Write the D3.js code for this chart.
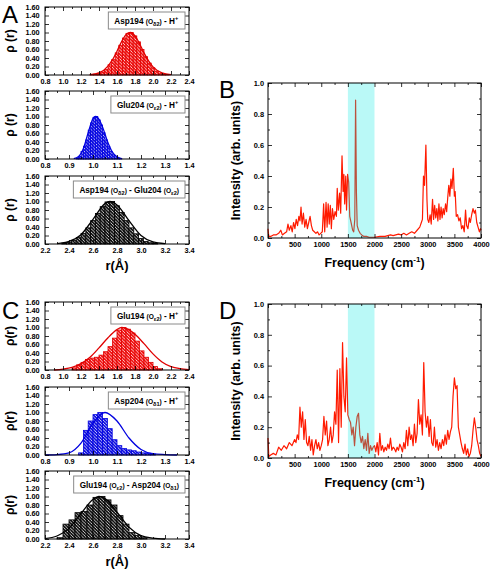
<!DOCTYPE html>
<html><head><meta charset="utf-8">
<script src="https://cdn.jsdelivr.net/npm/d3@7"></script>
<style>
body{margin:0;background:#fff}
svg{display:block}
text{font-family:"Liberation Sans",Arial,sans-serif}
</style>
</head><body>
<svg id="c" width="492" height="576"></svg>
<script>
// ---------------- DATA ----------------
const a1Edges = [1.30,1.34,1.38,1.42,1.46,1.50,1.54,1.58,1.62,1.66,1.70,1.74,1.78,1.82,1.86,1.90,1.94,1.98,2.02,2.06,2.10,2.14];
const a1Heights = [0.01,0.02,0.04,0.07,0.13,0.24,0.36,0.52,0.70,0.87,0.98,1.00,0.92,0.78,0.60,0.43,0.28,0.17,0.09,0.04,0.02,0.01];
const a1FitX = [1.30,1.40,1.50,1.55,1.60,1.65,1.70,1.75,1.80,1.85,1.90,2.00,2.10,2.20];
const a1FitY = [0.01,0.05,0.21,0.36,0.56,0.78,0.95,1.00,0.92,0.74,0.52,0.19,0.05,0.01];

const a2Edges = [0.93,0.94,0.95,0.96,0.97,0.98,0.99,1.00,1.01,1.02,1.03,1.04,1.05,1.06,1.07,1.08,1.09,1.10,1.11];
const a2Heights = [0.02,0.06,0.18,0.30,0.45,0.68,0.85,0.98,1.00,0.92,0.80,0.62,0.45,0.30,0.18,0.10,0.05,0.02,0.01];
const a2FitX = [0.92,0.94,0.96,0.98,1.00,1.01,1.02,1.04,1.06,1.08,1.10,1.12];
const a2FitY = [0.01,0.06,0.25,0.62,0.95,1.00,0.97,0.75,0.42,0.17,0.05,0.01];

const a3Edges = [2.34,2.38,2.42,2.46,2.50,2.54,2.58,2.62,2.66,2.70,2.74,2.78,2.82,2.86,2.90,2.94,2.98,3.02,3.06,3.10];
const a3Heights = [0.02,0.04,0.08,0.15,0.25,0.38,0.55,0.72,0.88,0.99,1.00,0.90,0.74,0.55,0.38,0.24,0.13,0.06,0.03,0.01];
const a3FitX = [2.30,2.40,2.50,2.60,2.70,2.74,2.80,2.90,3.00,3.10,3.20];
const a3FitY = [0.01,0.06,0.22,0.58,0.95,1.00,0.92,0.55,0.20,0.05,0.01];

const c1Edges = [1.10,1.15,1.20,1.25,1.30,1.35,1.40,1.45,1.50,1.55,1.60,1.65,1.70,1.75,1.80,1.85,1.90,1.95,2.00,2.05];
const c1Heights = [0.05,0.12,0.18,0.25,0.28,0.30,0.35,0.43,0.55,0.75,0.94,1.00,0.96,0.87,0.68,0.45,0.30,0.18,0.08,0.03];
const c1FitX = [0.90,1.00,1.10,1.20,1.30,1.40,1.50,1.60,1.65,1.70,1.80,1.90,2.00,2.10,2.20,2.30,2.40];
const c1FitY = [0.00,0.02,0.06,0.15,0.30,0.52,0.76,0.95,1.00,0.98,0.84,0.62,0.38,0.19,0.08,0.03,0.01];

const c2Edges = [0.94,0.96,0.98,1.00,1.02,1.04,1.06,1.08,1.10,1.12,1.14,1.16,1.18,1.20,1.22,1.24];
const c2Heights = [0.05,0.58,0.80,0.95,1.00,0.86,0.62,0.36,0.22,0.15,0.12,0.10,0.07,0.05,0.04,0.02];
const c2FitX = [0.80,0.85,0.90,0.95,1.00,1.05,1.10,1.15,1.20,1.25,1.30,1.35];
const c2FitY = [0.00,0.01,0.05,0.28,0.75,1.00,0.80,0.40,0.13,0.03,0.01,0.00];

const c3Edges = [2.30,2.35,2.40,2.45,2.50,2.55,2.60,2.65,2.70,2.75,2.80,2.85,2.90,2.95,3.00];
const c3Heights = [0.03,0.35,0.45,0.62,0.65,0.80,0.98,1.00,0.92,0.80,0.55,0.35,0.15,0.08,0.03];
const c3FitX = [2.20,2.30,2.40,2.50,2.60,2.65,2.70,2.80,2.90,3.00,3.10,3.20];
const c3FitY = [0.01,0.07,0.25,0.60,0.93,1.00,0.95,0.63,0.28,0.08,0.02,0.00];

const yTicksHist = [0,0.2,0.4,0.6,0.8,1.0,1.2,1.4,1.6];
const xTicksWide = [0.8,1.0,1.2,1.4,1.6,1.8,2.0,2.2,2.4];
const xTicksNarrow = [0.8,0.9,1.0,1.1,1.2,1.3,1.4];
const xTicksOO = [2.2,2.4,2.6,2.8,3.0,3.2,3.4];
const xTicksFreq = [0,500,1000,1500,2000,2500,3000,3500,4000];
const yTicksInt = [0,0.2,0.4,0.6,0.8,1.0];
const bandRange = [1500,2000];

const specB = [[0,0.06],[15,0.01],[50,0.01],[100,0.02],[150,0.02],[200,0.03],[240,0.05],[270,0.02],[310,0.03],[350,0.04],[375,0.09],[400,0.05],[430,0.08],[455,0.04],[480,0.10],[505,0.06],[530,0.12],[555,0.08],[580,0.14],[600,0.11],[620,0.20],[640,0.09],[665,0.16],[690,0.07],[715,0.12],[740,0.06],[765,0.10],[790,0.14],[815,0.08],[840,0.05],[870,0.04],[900,0.03],[930,0.04],[960,0.02],[990,0.03],[1020,0.04],[1045,0.22],[1065,0.04],[1090,0.23],[1110,0.07],[1130,0.22],[1150,0.09],[1170,0.21],[1190,0.06],[1210,0.19],[1235,0.12],[1260,0.17],[1285,0.14],[1300,0.32],[1320,0.18],[1345,0.29],[1365,0.16],[1390,0.53],[1410,0.30],[1425,0.41],[1440,0.22],[1460,0.40],[1475,0.18],[1495,0.41],[1515,0.36],[1535,0.14],[1560,0.10],[1590,0.05],[1610,0.04],[1630,0.12],[1645,0.89],[1660,0.30],[1675,0.08],[1700,0.05],[1730,0.03],[1760,0.02],[1800,0.01],[1850,0.01],[1900,0.005],[2000,0.005],[2100,0.01],[2200,0.01],[2250,0.015],[2300,0.02],[2350,0.015],[2400,0.02],[2450,0.025],[2500,0.02],[2550,0.03],[2600,0.02],[2650,0.03],[2700,0.04],[2750,0.03],[2800,0.05],[2850,0.07],[2880,0.10],[2900,0.12],[2920,0.40],[2940,0.34],[2965,0.60],[2985,0.25],[3000,0.12],[3020,0.10],[3045,0.15],[3065,0.09],[3090,0.25],[3110,0.12],[3130,0.21],[3150,0.13],[3170,0.19],[3190,0.11],[3210,0.22],[3230,0.12],[3250,0.20],[3270,0.13],[3290,0.19],[3310,0.15],[3335,0.22],[3355,0.17],[3375,0.26],[3395,0.34],[3415,0.27],[3435,0.38],[3455,0.32],[3480,0.45],[3500,0.27],[3515,0.30],[3535,0.14],[3560,0.15],[3585,0.11],[3610,0.13],[3635,0.06],[3660,0.08],[3685,0.04],[3710,0.18],[3730,0.08],[3755,0.06],[3780,0.13],[3800,0.10],[3825,0.15],[3850,0.19],[3875,0.16],[3895,0.18],[3920,0.10],[3945,0.07],[3970,0.04],[3990,0.06],[4000,0.05]];

const specD = [[0,0.13],[15,0.01],[50,0.02],[100,0.03],[150,0.02],[200,0.07],[250,0.05],[300,0.08],[350,0.06],[400,0.10],[450,0.08],[500,0.12],[525,0.10],[550,0.15],[575,0.12],[600,0.33],[625,0.20],[650,0.30],[675,0.12],[700,0.25],[725,0.10],[750,0.08],[775,0.14],[800,0.05],[825,0.12],[850,0.02],[875,0.08],[900,0.12],[925,0.06],[950,0.10],[975,0.05],[1000,0.08],[1025,0.12],[1050,0.27],[1075,0.15],[1100,0.24],[1125,0.08],[1150,0.12],[1175,0.20],[1200,0.10],[1225,0.15],[1250,0.30],[1275,0.22],[1300,0.57],[1325,0.10],[1350,0.58],[1375,0.20],[1400,0.75],[1425,0.40],[1450,0.30],[1475,0.65],[1500,0.28],[1525,0.25],[1550,0.23],[1575,0.15],[1600,0.20],[1625,0.08],[1650,0.20],[1675,0.27],[1700,0.29],[1725,0.15],[1750,0.10],[1775,0.14],[1800,0.06],[1825,0.12],[1850,0.05],[1875,0.16],[1900,0.03],[1925,0.08],[1950,0.05],[1975,0.07],[2000,0.08],[2025,0.04],[2050,0.10],[2075,0.02],[2100,0.16],[2125,0.05],[2150,0.08],[2175,0.04],[2200,0.07],[2225,0.05],[2250,0.09],[2275,0.06],[2300,0.13],[2325,0.05],[2350,0.07],[2375,0.06],[2400,0.04],[2425,0.07],[2450,0.05],[2475,0.09],[2500,0.07],[2525,0.04],[2550,0.10],[2575,0.06],[2600,0.18],[2625,0.08],[2650,0.20],[2675,0.12],[2700,0.15],[2725,0.08],[2750,0.22],[2775,0.10],[2800,0.16],[2825,0.38],[2850,0.22],[2875,0.28],[2900,0.15],[2925,0.62],[2950,0.30],[2975,0.20],[3000,0.27],[3025,0.14],[3050,0.25],[3075,0.10],[3100,0.08],[3125,0.20],[3150,0.07],[3175,0.12],[3200,0.05],[3225,0.10],[3250,0.06],[3275,0.12],[3300,0.08],[3325,0.15],[3350,0.09],[3375,0.18],[3400,0.12],[3425,0.17],[3450,0.20],[3475,0.40],[3500,0.52],[3525,0.45],[3550,0.47],[3575,0.20],[3600,0.15],[3625,0.10],[3650,0.06],[3675,0.03],[3700,0.09],[3725,0.02],[3750,0.06],[3775,0.01],[3800,0.03],[3825,0.08],[3850,0.18],[3875,0.26],[3900,0.20],[3925,0.12],[3950,0.08],[3975,0.03],[4000,0.01]];

const a1Label = [["Asp194 ","n"],["(O","p"],["δ2","sub"],[")","p"],[" - H","n"],["+","sup"]];
const a2Label = [["Glu204 ","n"],["(O","p"],["ε2","sub"],[")","p"],[" - H","n"],["+","sup"]];
const a3Label = [["Asp194 ","n"],["(O","p"],["δ2","sub"],[")","p"],[" - Glu204 ","n"],["(O","p"],["ε2","sub"],[")","p"]];
const c1Label = [["Glu194 ","n"],["(O","p"],["ε2","sub"],[")","p"],[" - H","n"],["+","sup"]];
const c2Label = [["Asp204 ","n"],["(O","p"],["δ1","sub"],[")","p"],[" - H","n"],["+","sup"]];
const c3Label = [["Glu194 ","n"],["(O","p"],["ε2","sub"],[")","p"],[" - Asp204 ","n"],["(O","p"],["δ1","sub"],[")","p"]];

// ---------------- DRAWING ----------------
const svg = d3.select("#c");
const defs = svg.append("defs");
function hatch(id, color){
  const s = 3.2;
  const p = defs.append("pattern").attr("id", id).attr("patternUnits","userSpaceOnUse")
    .attr("width", s).attr("height", s);
  p.append("rect").attr("width", s).attr("height", s).attr("fill", color);
  p.append("path").attr("d", `M0,0L${s},${s}M${-s/2},${s/2}L${s/2},${s*1.5}M${s/2},${-s/2}L${s*1.5},${s/2}`)
    .attr("stroke","#fff").attr("stroke-width",0.75);
}
hatch("hR","#f01010");
hatch("hB","#1010e0");
hatch("hK","#111");

function richText(g, segs){
  const t = g.append("text").attr("font-weight","bold").attr("fill","#000");
  let shift = 0;
  segs.forEach(([s, st]) => {
    const ts = t.append("tspan").text(s);
    let size = 8.2, dy = 0;
    if (st === "p") size = 6.6;
    if (st === "sub") { size = 5.6; dy = 2; }
    if (st === "sup") { size = 5.6; dy = -3.5; }
    ts.attr("font-size", size).attr("dy", dy - shift);
    shift = dy;
  });
  return t;
}

function frameAxes(g, x, y, L, R, T, B, o){
  const styleText = a => a.selectAll("text").attr("font-size",o.fs).attr("font-weight","bold").attr("font-family","Liberation Sans");
  g.append("g").attr("transform",`translate(0,${B})`)
    .call(d3.axisBottom(x).tickValues(o.xMajor).tickSizeInner(-4).tickSizeOuter(0).tickPadding(3.5).tickFormat(o.xFmt))
    .call(a => { a.select(".domain").remove(); styleText(a); });
  g.append("g").attr("transform",`translate(0,${B})`)
    .call(d3.axisBottom(x).tickValues(o.xMinor).tickSizeInner(-2).tickSizeOuter(0).tickFormat(""))
    .call(a => a.select(".domain").remove());
  g.append("g").attr("transform",`translate(0,${T})`)
    .call(d3.axisTop(x).tickValues(o.xMajor).tickSizeInner(-4).tickSizeOuter(0).tickFormat(""))
    .call(a => a.select(".domain").remove());
  g.append("g").attr("transform",`translate(0,${T})`)
    .call(d3.axisTop(x).tickValues(o.xMinor).tickSizeInner(-2).tickSizeOuter(0).tickFormat(""))
    .call(a => a.select(".domain").remove());
  g.append("g").attr("transform",`translate(${L},0)`)
    .call(d3.axisLeft(y).tickValues(o.yMajor).tickSizeInner(-4).tickSizeOuter(0).tickPadding(o.yPad).tickFormat(o.yFmt))
    .call(a => { a.select(".domain").remove(); styleText(a); });
  g.append("g").attr("transform",`translate(${R},0)`)
    .call(d3.axisRight(y).tickValues(o.yMajor).tickSizeInner(-4).tickSizeOuter(0).tickFormat(""))
    .call(a => a.select(".domain").remove());
  if (o.yMinor) {
    g.append("g").attr("transform",`translate(${L},0)`)
      .call(d3.axisLeft(y).tickValues(o.yMinor).tickSizeInner(-2).tickSizeOuter(0).tickFormat(""))
      .call(a => a.select(".domain").remove());
    g.append("g").attr("transform",`translate(${R},0)`)
      .call(d3.axisRight(y).tickValues(o.yMinor).tickSizeInner(-2).tickSizeOuter(0).tickFormat(""))
      .call(a => a.select(".domain").remove());
  }
  g.selectAll(".tick line").attr("stroke","#000").attr("stroke-width",0.8);
  g.append("rect").attr("x",L).attr("y",T).attr("width",R-L).attr("height",B-T)
    .attr("fill","none").attr("stroke","#000").attr("stroke-width",1);
}

function histPanel(p){
  const L = 45, R = 189;
  const g = svg.append("g");
  const x = d3.scaleLinear().domain(p.dom).range([L,R]);
  const y = d3.scaleLinear().domain([0,1.6]).range([p.B,p.T]);
  const w = p.edges[1] - p.edges[0];
  g.selectAll("rect.bar").data(p.edges).join("rect").attr("class","bar")
    .attr("x", d => x(d)).attr("width", d => x(d + w) - x(d))
    .attr("y", (d,i) => y(p.heights[i])).attr("height", (d,i) => y(0) - y(p.heights[i]))
    .attr("fill", `url(#${p.pat})`).attr("stroke", p.color).attr("stroke-width", 0.8);
  const pts = p.fitX.map((v,i) => [v, p.fitY[i]]);
  g.append("path").datum(pts)
    .attr("d", d3.line().x(d => x(d[0])).y(d => y(d[1])).curve(d3.curveMonotoneX))
    .attr("fill","none").attr("stroke", p.color).attr("stroke-width", 1.3);
  const minor = [];
  for (let i = 0; i < p.xMajor.length - 1; i++) minor.push((p.xMajor[i] + p.xMajor[i+1]) / 2);
  frameAxes(g, x, y, L, R, p.T, p.B, {
    xMajor: p.xMajor, xMinor: minor, xFmt: d3.format(".1f"),
    yMajor: yTicksHist, yFmt: d3.format(".2f"), fs: 7.3, yPad: 5.4
  });
  const lg = g.append("g");
  const t = richText(lg, p.label);
  const bb = t.node().getBBox();
  const bw = bb.width + 12, bh = 17;
  const bx = R - 4 - bw, by = p.T + 5;
  lg.insert("rect","text").attr("x",bx).attr("y",by).attr("width",bw).attr("height",bh)
    .attr("fill","#fff").attr("stroke","#8a8a8a").attr("stroke-width",1);
  t.attr("x", bx + 6).attr("y", by + 11.5);
  t.select("tspan").attr("x", bx + 6);
  g.append("text").attr("transform",`translate(14,${(p.T+p.B)/2}) rotate(-90)`)
    .attr("text-anchor","middle").attr("font-size",12).attr("font-weight","bold").text(p.ylab);
}

function specPanel(p){
  const L = 268, R = 481;
  const g = svg.append("g");
  const x = d3.scaleLinear().domain([0,4000]).range([L,R]);
  const y = d3.scaleLinear().domain([0,1.0]).range([p.B,p.T]);
  g.append("path").datum(p.data)
    .attr("d", d3.line().x(d => x(d[0])).y(d => y(d[1])))
    .attr("fill","none").attr("stroke","#ff1a00").attr("stroke-width",1.2).attr("stroke-linejoin","round");
  g.append("rect").attr("x", x(bandRange[0])).attr("y", p.T).attr("width", x(bandRange[1]) - x(bandRange[0]))
    .attr("height", p.B - p.T).attr("fill","#00e8e0").attr("opacity",0.27);
  const xMinor = [250,750,1250,1750,2250,2750,3250,3750];
  const yMinor = [0.1,0.3,0.5,0.7,0.9];
  frameAxes(g, x, y, L, R, p.T, p.B, {
    xMajor: xTicksFreq, xMinor: xMinor, xFmt: d3.format("d"),
    yMajor: yTicksInt, yMinor: yMinor, yFmt: d3.format(".1f"), fs: 7.4, yPad: 4
  });
  g.append("text").attr("transform",`translate(240,${(p.T+p.B)/2}) rotate(-90)`)
    .attr("text-anchor","middle").attr("font-size",12.5).attr("font-weight","bold").text("Intensity (arb. units)");
  const ft = g.append("text").attr("x",(L+R)/2).attr("y",p.B+29).attr("text-anchor","middle")
    .attr("font-size",12.5).attr("font-weight","bold");
  ft.append("tspan").text("Frequency (cm");
  ft.append("tspan").text("-1").attr("font-size",8).attr("dy",-5);
  ft.append("tspan").text(")").attr("dy",5);
}

histPanel({T:7, B:75, dom:[0.8,2.4], xMajor:xTicksWide, edges:a1Edges, heights:a1Heights, fitX:a1FitX, fitY:a1FitY, color:"#e00000", pat:"hR", label:a1Label, ylab:"ρ (r)"});
histPanel({T:91, B:159, dom:[0.8,1.4], xMajor:xTicksNarrow, edges:a2Edges, heights:a2Heights, fitX:a2FitX, fitY:a2FitY, color:"#0000e0", pat:"hB", label:a2Label, ylab:"ρ (r)"});
histPanel({T:176, B:244, dom:[2.2,3.4], xMajor:xTicksOO, edges:a3Edges, heights:a3Heights, fitX:a3FitX, fitY:a3FitY, color:"#000", pat:"hK", label:a3Label, ylab:"ρ (r)"});
histPanel({T:302, B:370, dom:[0.8,2.4], xMajor:xTicksWide, edges:c1Edges, heights:c1Heights, fitX:c1FitX, fitY:c1FitY, color:"#e00000", pat:"hR", label:c1Label, ylab:"ρ(r)"});
histPanel({T:387, B:455, dom:[0.8,1.4], xMajor:xTicksNarrow, edges:c2Edges, heights:c2Heights, fitX:c2FitX, fitY:c2FitY, color:"#0000e0", pat:"hB", label:c2Label, ylab:"ρ(r)"});
histPanel({T:471, B:539, dom:[2.2,3.4], xMajor:xTicksOO, edges:c3Edges, heights:c3Heights, fitX:c3FitX, fitY:c3FitY, color:"#000", pat:"hK", label:c3Label, ylab:"ρ(r)"});

svg.append("text").attr("x",117).attr("y",270).attr("text-anchor","middle").attr("font-size",13).attr("font-weight","bold").text("r(Å)");
svg.append("text").attr("x",117).attr("y",566).attr("text-anchor","middle").attr("font-size",13).attr("font-weight","bold").text("r(Å)");

specPanel({T:83, B:238, data:specB});
specPanel({T:304, B:458, data:specD});

[["A",2,23],["B",219,98],["C",2,319],["D",219,319]].forEach(([s,x,y]) =>
  svg.append("text").attr("x",x).attr("y",y).attr("font-size",24).text(s));
</script>
</body></html>
